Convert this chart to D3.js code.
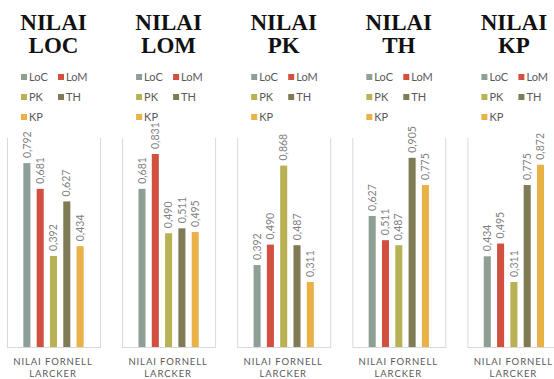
<!DOCTYPE html>
<html>
<head>
<meta charset="utf-8">
<script src="https://cdn.jsdelivr.net/npm/d3@7"></script>
<style>
  html, body { margin: 0; padding: 0; background: #fff; }
  svg { display: block; }
</style>
</head>
<body>
<svg id="chart" width="554" height="379"></svg>
<script>
// Panel titles (one chart per construct)
const panelTitles = ["LOC", "LOM", "PK", "TH", "KP"];
// Bar series inside each panel
const seriesNames = ["LoC", "LoM", "PK", "TH", "KP"];
const seriesColors = ["#8e9f95", "#d1503f", "#b8b254", "#7f7b55", "#e8b247"];
// Fornell-Larcker values, one array per panel
const nilaiLOC = [0.792, 0.681, 0.392, 0.627, 0.434];
const nilaiLOM = [0.681, 0.831, 0.490, 0.511, 0.495];
const nilaiPK  = [0.392, 0.490, 0.868, 0.487, 0.311];
const nilaiTH  = [0.627, 0.511, 0.487, 0.905, 0.775];
const nilaiKP  = [0.434, 0.495, 0.311, 0.775, 0.872];
// Value-axis maximum of each panel
const axisMax = [0.9, 0.9, 1.0, 1.0, 1.0];
const categoryLabel = ["NILAI FORNELL", "LARCKER"];

const panelValues = [nilaiLOC, nilaiLOM, nilaiPK, nilaiTH, nilaiKP];

const svg = d3.select("#chart");
const panelStep = 115.1, panelLeft0 = 7, plotW = 93;
const plotTop = 138, plotBottom = 347;

panelTitles.forEach((title, i) => {
  const g = svg.append("g")
    .attr("transform", `translate(${panelLeft0 + i * panelStep},0)`);
  const cx = plotW / 2;

  // Title in two lines
  const t = g.append("text")
    .attr("text-anchor", "middle")
    .attr("font-family", "'Liberation Serif', 'Times New Roman', serif")
    .attr("font-weight", "bold")
    .attr("font-size", 23)
    .attr("fill", "#111");
  t.append("tspan").attr("x", cx).attr("y", 29.5).text("NILAI");
  t.append("tspan").attr("x", cx).attr("y", 53).text(title);

  // Legend: two columns, three rows
  const leg = g.append("g");
  seriesNames.forEach((name, k) => {
    const lx = (k % 2 === 0) ? 14 : 51;
    const ly = 77 + Math.floor(k / 2) * 20;
    leg.append("rect")
      .attr("x", lx).attr("y", ly - 3)
      .attr("width", 6).attr("height", 6)
      .attr("fill", seriesColors[k]);
    leg.append("text")
      .attr("x", lx + 8).attr("y", ly)
      .attr("dy", "0.36em")
      .attr("font-family", "Lato, 'Open Sans', sans-serif")
      .attr("font-size", 11)
      .attr("fill", "#595959")
      .text(name);
  });

  // Scales
  const x = d3.scaleBand()
    .domain(seriesNames)
    .range([0, plotW])
    .paddingInner(0.47)
    .paddingOuter(1.23);
  const y = d3.scaleLinear()
    .domain([0, axisMax[i]])
    .range([plotBottom, plotTop]);

  // Plot frame: side lines and baseline
  g.append("line")
    .attr("x1", 0.5).attr("x2", 0.5)
    .attr("y1", y(axisMax[i])).attr("y2", y(0))
    .attr("stroke", "#d9d9d9").attr("stroke-width", 1);
  g.append("line")
    .attr("x1", plotW + 0.5).attr("x2", plotW + 0.5)
    .attr("y1", y(axisMax[i])).attr("y2", y(0))
    .attr("stroke", "#d9d9d9").attr("stroke-width", 1);

  const vals = panelValues[i];
  const data = seriesNames.map((s, k) => ({ s, v: vals[k], c: seriesColors[k] }));

  g.selectAll("rect.bar").data(data).enter().append("rect")
    .attr("class", "bar")
    .attr("x", d => x(d.s))
    .attr("width", x.bandwidth())
    .attr("y", d => y(d.v))
    .attr("height", d => y(0) - y(d.v))
    .attr("fill", d => d.c);

  g.append("line")
    .attr("x1", 0).attr("x2", plotW + 1)
    .attr("y1", y(0) + 0.5).attr("y2", y(0) + 0.5)
    .attr("stroke", "#d9d9d9").attr("stroke-width", 1);

  // Rotated value labels above bars
  const fmt = v => d3.format(".3f")(v).replace(".", ",");
  g.selectAll("text.val").data(data).enter().append("text")
    .attr("class", "val")
    .attr("transform", d => `translate(${x(d.s) + x.bandwidth() / 2},${y(d.v) - 5}) rotate(-90)`)
    .attr("dy", "0.35em")
    .attr("text-anchor", "start")
    .attr("font-family", "Lato, 'Open Sans', sans-serif")
    .attr("font-size", 10.5)
    .attr("fill", "#7f7f7f")
    .text(d => fmt(d.v));

  // Category label under the axis
  const cl = g.append("text")
    .attr("text-anchor", "middle")
    .attr("font-family", "Lato, 'Open Sans', sans-serif")
    .attr("font-size", 9.5)
    .attr("letter-spacing", 0.9)
    .attr("fill", "#595959");
  cl.append("tspan").attr("x", cx - 0.5).attr("y", 365).text(categoryLabel[0]);
  cl.append("tspan").attr("x", cx - 0.5).attr("y", 377).text(categoryLabel[1]);
});
</script>
</body>
</html>
